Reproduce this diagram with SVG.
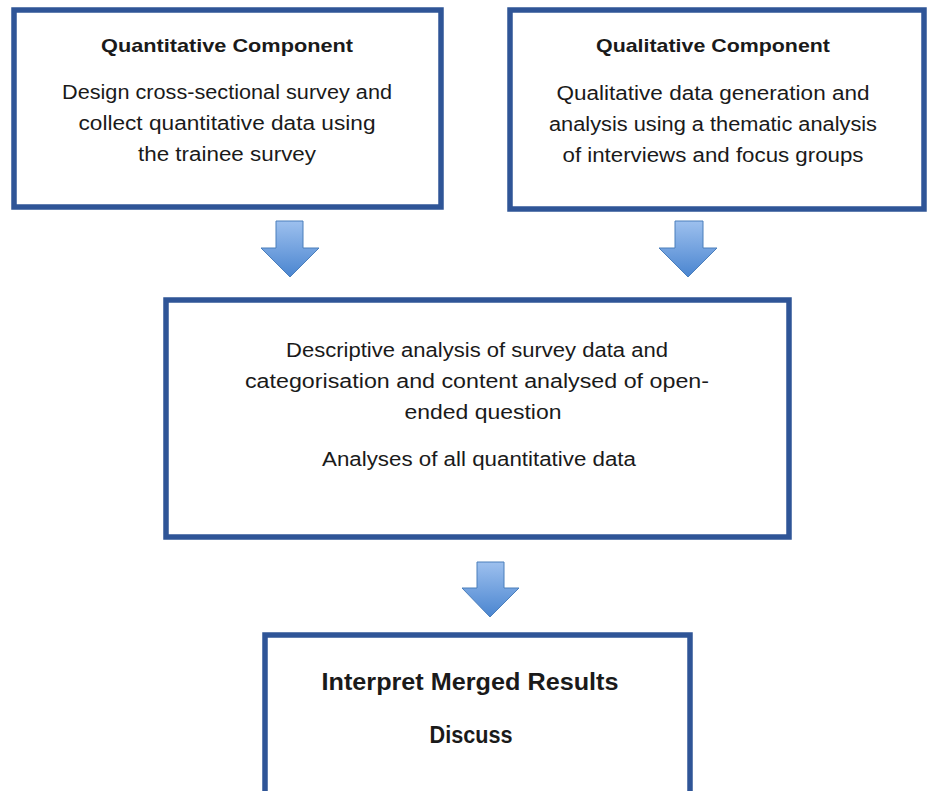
<svg xmlns="http://www.w3.org/2000/svg" width="927" height="791" viewBox="0 0 927 791">
<style>
.box{fill:#fff;stroke:#2F5597;stroke-width:5.5}
.t{font-family:"Liberation Sans",Arial,sans-serif;font-size:20px;fill:#1a1a1a;text-anchor:middle}
.b{font-weight:bold;font-size:19px}
.big{font-size:23px}
.arr{stroke:#4A7EBB;stroke-width:1;fill:url(#g)}
</style>
<defs>
<linearGradient id="g" x1="0" y1="0" x2="0" y2="1">
<stop offset="0" stop-color="#9DC0EE"/>
<stop offset="1" stop-color="#4A85D0"/>
</linearGradient>
</defs>
<rect width="927" height="791" fill="#fff"/>
<g id="quant">
<rect class="box" x="14" y="10" width="427" height="197"/>
<text class="t b" x="227" y="52" textLength="252" lengthAdjust="spacingAndGlyphs">Quantitative Component</text>
<text class="t" x="227" y="99" textLength="330" lengthAdjust="spacingAndGlyphs">Design cross-sectional survey and</text>
<text class="t" x="227" y="130" textLength="297" lengthAdjust="spacingAndGlyphs">collect quantitative data using</text>
<text class="t" x="227" y="161" textLength="178" lengthAdjust="spacingAndGlyphs">the trainee survey</text>
</g>
<g id="qual">
<rect class="box" x="510" y="10" width="414" height="199"/>
<text class="t b" x="713" y="52" textLength="234" lengthAdjust="spacingAndGlyphs">Qualitative Component</text>
<text class="t" x="713" y="100" textLength="313" lengthAdjust="spacingAndGlyphs">Qualitative data generation and</text>
<text class="t" x="713" y="131" textLength="328" lengthAdjust="spacingAndGlyphs">analysis using a thematic analysis</text>
<text class="t" x="713" y="162" textLength="301" lengthAdjust="spacingAndGlyphs">of interviews and focus groups</text>
</g>
<g id="analysis">
<rect class="box" x="166" y="300" width="623" height="237"/>
<text class="t" x="477" y="357" textLength="382" lengthAdjust="spacingAndGlyphs">Descriptive analysis of survey data and</text>
<text class="t" x="477" y="388" textLength="464" lengthAdjust="spacingAndGlyphs">categorisation and content analysed of open-</text>
<text class="t" x="483" y="419" textLength="157" lengthAdjust="spacingAndGlyphs">ended question</text>
<text class="t" x="479" y="466" textLength="314" lengthAdjust="spacingAndGlyphs">Analyses of all quantitative data</text>
</g>
<g id="interpret">
<rect class="box" x="265" y="635" width="425" height="170"/>
<text class="t b big" x="470" y="690" textLength="297" lengthAdjust="spacingAndGlyphs">Interpret Merged Results</text>
<text class="t b big" x="471" y="743" textLength="83" lengthAdjust="spacingAndGlyphs">Discuss</text>
</g>
<g id="connectors">
<path class="arr" d="M276,221 H303 V248 H319 L290,277 L261,248 H276 Z"/>
<path class="arr" d="M675,221 H703 V248 H717 L688,277 L659,248 H675 Z"/>
<path class="arr" d="M477,562 H504 V588 H519 L490,617 L462,588 H477 Z"/>
</g>
</svg>
